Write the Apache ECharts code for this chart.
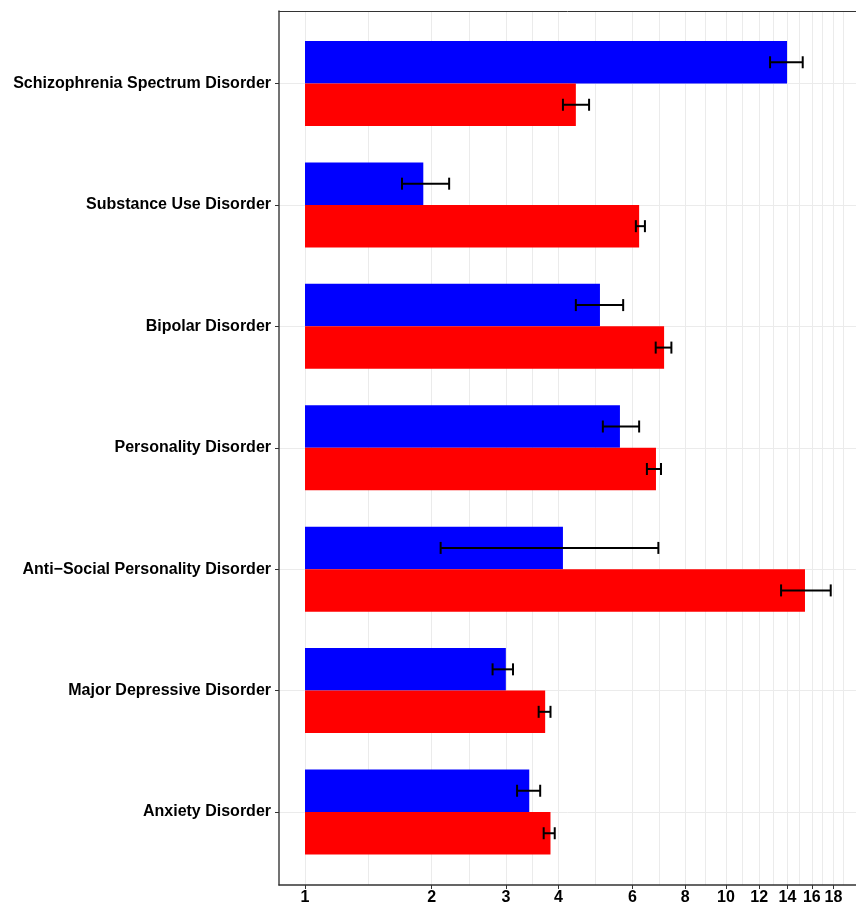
<!DOCTYPE html>
<html><head><meta charset="utf-8">
<script src="https://cdn.jsdelivr.net/npm/echarts@6/dist/echarts.min.js"></script>
<style>html,body{margin:0;padding:0;background:#fff}#c{width:856px;height:906px}</style>
</head><body><div id="c"></div>
<script>
const categories = ['Schizophrenia Spectrum Disorder','Substance Use Disorder','Bipolar Disorder','Personality Disorder','Anti\u2212Social Personality Disorder','Major Depressive Disorder','Anxiety Disorder'];
const blueValues = [13.97, 1.91, 5.02, 5.60, 4.10, 3.00, 3.41];
const blueLower  = [12.73, 1.70, 4.40, 5.10, 2.10, 2.79, 3.19];
const blueUpper  = [15.22, 2.20, 5.70, 6.22, 6.91, 3.12, 3.62];
const redValues  = [4.40, 6.22, 7.13, 6.82, 15.41, 3.72, 3.83];
const redLower   = [4.10, 6.11, 6.81, 6.49, 13.52, 3.59, 3.69];
const redUpper   = [4.73, 6.42, 7.42, 7.01, 17.74, 3.83, 3.92];
const xTickLabels = [1, 2, 3, 4, 6, 8, 10, 12, 14, 16, 18];
const xMinorGrid = [1.414, 2.449, 3.464, 4.899, 6.928, 8.944, 10.954, 12.961, 14.967, 16.971, 18.974];

const X_MIN = 0.8674, X_MAX = 20.37;
const FONT = "'Liberation Sans', Arial, sans-serif";
const GRID_LINE = { color: '#ebebeb', width: 1, type: 'solid' };

function errItem(lo, hi) { return lo.map((v, i) => [v, hi[i], i]); }
function makeErr(sign) {
  return function (params, api) {
    const a = api.coord([api.value(0), api.value(2)]);
    const b = api.coord([api.value(1), api.value(2)]);
    const band = api.size([0, 1])[1];
    const y = a[1] + sign * band * 0.175;
    const cap = 6;
    const style = { stroke: '#000', lineWidth: 2 };
    return { type: 'group', children: [
      { type: 'line', shape: { x1: a[0], y1: y, x2: b[0], y2: y }, style },
      { type: 'line', shape: { x1: a[0], y1: y - cap, x2: a[0], y2: y + cap }, style },
      { type: 'line', shape: { x1: b[0], y1: y - cap, x2: b[0], y2: y + cap }, style }
    ]};
  };
}

const chart = echarts.init(document.getElementById('c'), null, { renderer: 'canvas' });
chart.setOption({
  animation: false,
  backgroundColor: '#fff',
  grid: [
    { left: 279, top: 11, right: 0, bottom: 21, show: false, containLabel: false },
    { left: 279, top: 22.8, right: 0, bottom: 33.3, containLabel: false }
  ],
  xAxis: [
    { type: 'log', gridIndex: 0, min: X_MIN, max: X_MAX,
      axisLine: { show: true, lineStyle: { color: '#333', width: 1.5 } },
      axisTick: { show: true, length: 4, customValues: xTickLabels, lineStyle: { color: '#333', width: 1 } },
      axisLabel: { show: true, customValues: xTickLabels, formatter: v => String(Math.round(v)), color: '#000', fontWeight: 'bold', fontSize: 16, fontFamily: FONT, margin: 5 },
      splitLine: { show: false }, minorSplitLine: { show: false }
    },
    { type: 'log', gridIndex: 1, min: X_MIN, max: X_MAX,
      axisLine: { show: false }, axisLabel: { show: false }, axisTick: { show: false }, splitLine: { show: false }
    },
    { type: 'log', gridIndex: 0, min: X_MIN, max: X_MAX, position: 'top',
      axisLine: { show: true, lineStyle: { color: '#333', width: 1 } },
      axisLabel: { show: false }, axisTick: { show: false }, splitLine: { show: false }
    }
  ],
  yAxis: [
    { type: 'value', gridIndex: 0, min: 0, max: 1,
      axisLine: { show: true, lineStyle: { color: '#444', width: 1.5 } },
      axisTick: { show: false }, axisLabel: { show: false }, splitLine: { show: false }
    },
    { type: 'category', gridIndex: 1, data: categories, inverse: true,
      axisLine: { show: false },
      axisTick: { show: true, alignWithLabel: true, length: 4, lineStyle: { color: '#333' } },
      axisLabel: { color: '#000', fontWeight: 'bold', fontSize: 16, fontFamily: FONT, margin: 8, padding: [6, 0, 0, 0] },
      splitLine: { show: false }
    }
  ],
  series: [
    { type: 'scatter', xAxisIndex: 0, yAxisIndex: 0, data: [], z: 0, silent: true,
      markLine: { silent: true, symbol: 'none', z: 0, label: { show: false }, lineStyle: GRID_LINE,
        data: xTickLabels.concat(xMinorGrid).map(v => ({ xAxis: v })) }
    },
    { type: 'scatter', xAxisIndex: 1, yAxisIndex: 1, data: [], z: 0, silent: true,
      markLine: { silent: true, symbol: 'none', z: 0, label: { show: false }, lineStyle: GRID_LINE,
        data: categories.map(c => ({ yAxis: c })) }
    },
    { name: 'blue', type: 'bar', xAxisIndex: 1, yAxisIndex: 1, data: blueValues, z: 2,
      itemStyle: { color: '#0000ff' }, barCategoryGap: '30%', barGap: '0%' },
    { name: 'red', type: 'bar', xAxisIndex: 1, yAxisIndex: 1, data: redValues, z: 2,
      itemStyle: { color: '#ff0000' }, barCategoryGap: '30%', barGap: '0%' },
    { type: 'custom', xAxisIndex: 1, yAxisIndex: 1, z: 5, renderItem: makeErr(-1),
      encode: { x: [0, 1], y: 2 }, data: errItem(blueLower, blueUpper) },
    { type: 'custom', xAxisIndex: 1, yAxisIndex: 1, z: 5, renderItem: makeErr(1),
      encode: { x: [0, 1], y: 2 }, data: errItem(redLower, redUpper) }
  ]
});
</script></body></html>
